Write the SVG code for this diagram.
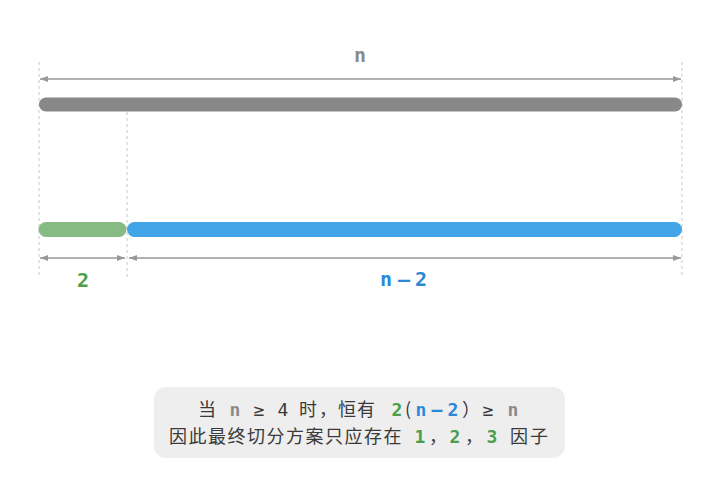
<svg xmlns="http://www.w3.org/2000/svg" width="722" height="480" viewBox="0 0 722 480">
<style>
.guide{stroke:#c8c8c8;stroke-width:1;stroke-dasharray:3,3;fill:none}
.dim{stroke:#999;stroke-width:1.5;fill:none}
.lbl{font-family:"DejaVu Sans Mono","Liberation Mono",monospace;font-weight:bold;font-size:20px;text-anchor:middle}
.t{font-family:"Noto Sans CJK SC","DejaVu Sans Mono",sans-serif;font-size:18px;fill:#3a3a3a;text-anchor:middle}
.m{font-family:"DejaVu Sans Mono","Noto Sans CJK SC",monospace;font-size:18px;text-anchor:middle}
.b{font-weight:bold}
.gray{fill:#8a8a8a}.green{fill:#4c9e4c}.blue{fill:#2a88d6}
</style>
<defs>
<marker id="ah" viewBox="0 0 8 6" refX="8" refY="3" markerWidth="8" markerHeight="6" markerUnits="userSpaceOnUse" orient="auto-start-reverse">
<path d="M0,0 L8,3 L0,6 Z" fill="#999"/>
</marker>
</defs>
<g id="guides">
<line class="guide" x1="39" y1="62" x2="39" y2="278"/>
<line class="guide" x1="682" y1="62" x2="682" y2="278"/>
<line class="guide" x1="127" y1="112" x2="127" y2="278"/>
</g>
<g id="connectors">
<line class="dim" x1="40" y1="79" x2="681" y2="79" marker-start="url(#ah)" marker-end="url(#ah)"/>
<line class="dim" x1="40" y1="258" x2="125" y2="258" marker-start="url(#ah)" marker-end="url(#ah)"/>
<line class="dim" x1="129" y1="258" x2="681" y2="258" marker-start="url(#ah)" marker-end="url(#ah)"/>
</g>
<g id="bar-n">
<rect x="39" y="97.5" width="643" height="14" rx="7" fill="#888888"/>
<text class="lbl gray" x="360" y="62">n</text>
</g>
<g id="bar-2">
<rect x="38.5" y="222" width="88" height="15" rx="7.5" fill="#86bb84"/>
<text class="lbl green" x="83" y="287">2</text>
</g>
<g id="bar-n-2">
<rect x="127" y="222" width="555" height="15" rx="7.5" fill="#41a5e8"/>
<text class="lbl blue" y="286"><tspan x="386">n</tspan><tspan x="404">–</tspan><tspan x="421">2</tspan></text>
</g>
<g id="note">
<rect x="154" y="387" width="411" height="71" rx="12" fill="#eeeeee"/>
<text class="t" y="416"><tspan x="207">当</tspan><tspan class="m b gray" x="235">n</tspan><tspan class="m" x="259">≥</tspan><tspan class="m" x="283">4</tspan><tspan x="308">时</tspan><tspan x="328">，</tspan><tspan x="347">恒</tspan><tspan x="366">有</tspan><tspan class="m b green" x="397">2</tspan><tspan x="408">(</tspan><tspan class="m b blue" x="421">n</tspan><tspan class="m b blue" x="437">–</tspan><tspan class="m b blue" x="453">2</tspan><tspan x="471">）</tspan><tspan class="m" x="488">≥</tspan><tspan class="m b gray" x="513">n</tspan></text>
<text class="t" y="443"><tspan x="178">因</tspan><tspan x="197.5">此</tspan><tspan x="217">最</tspan><tspan x="236.5">终</tspan><tspan x="256">切</tspan><tspan x="275.5">分</tspan><tspan x="295">方</tspan><tspan x="314.5">案</tspan><tspan x="334">只</tspan><tspan x="353.5">应</tspan><tspan x="373">存</tspan><tspan x="392.5">在</tspan><tspan class="m b green" x="420">1</tspan><tspan x="438">，</tspan><tspan class="m b green" x="455">2</tspan><tspan x="474">，</tspan><tspan class="m b green" x="492">3</tspan><tspan x="519">因</tspan><tspan x="539">子</tspan></text>
</g>
</svg>
